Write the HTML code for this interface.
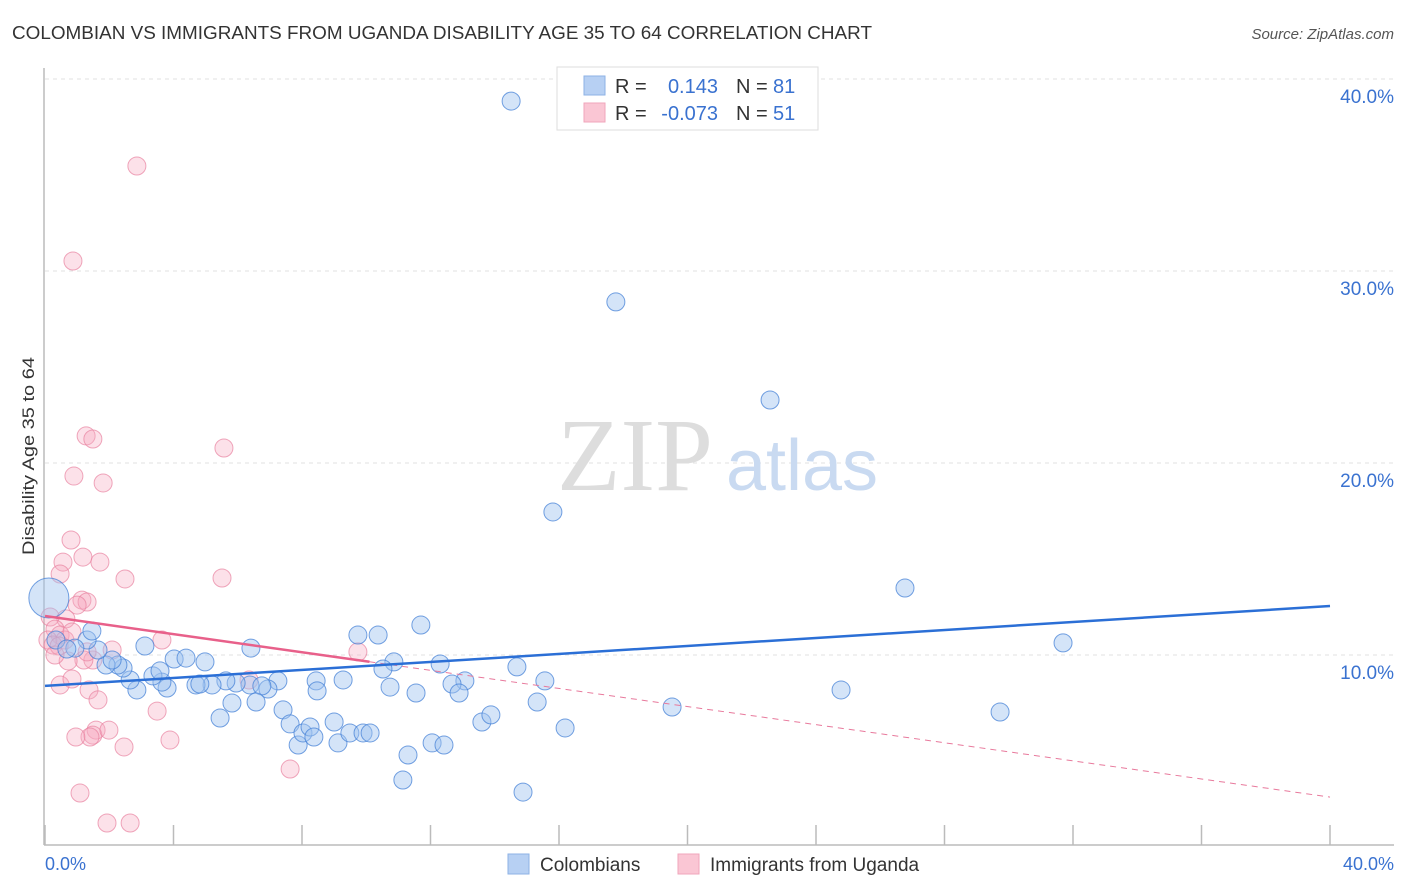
<!DOCTYPE html>
<html><head><meta charset="utf-8"><style>
body{margin:0;background:#fff;font-family:"Liberation Sans",sans-serif;}
svg{display:block}
</style></head><body>
<svg id="chart" width="1406" height="892" xmlns="http://www.w3.org/2000/svg">
<text x="12" y="39" font-size="18" fill="#333" textLength="860" lengthAdjust="spacingAndGlyphs">COLOMBIAN VS IMMIGRANTS FROM UGANDA DISABILITY AGE 35 TO 64 CORRELATION CHART</text>
<text x="1394" y="39" font-size="15" fill="#555" text-anchor="end" font-style="italic">Source: ZipAtlas.com</text>
<text x="34" y="456" font-size="17" fill="#333" text-anchor="middle" textLength="198" lengthAdjust="spacingAndGlyphs" transform="rotate(-90 34 456)">Disability Age 35 to 64</text>
<g id="grid"></g>
<g id="yticks"></g>
<line x1="44" y1="68" x2="44" y2="845" stroke="#bbb" stroke-width="1.5"/>
<line x1="44" y1="845" x2="1394" y2="845" stroke="#bbb" stroke-width="1.5"/>
<g id="xticks"></g>
<text x="45" y="870" font-size="18" fill="#3a72d0">0.0%</text>
<text x="1394" y="870" font-size="18" fill="#3a72d0" text-anchor="end">40.0%</text>
<g><text x="635" y="490" font-size="104" fill="#ddd" font-family="Liberation Serif,serif" text-anchor="middle">ZIP</text><text x="802" y="490" font-size="72" fill="#c9daf1" text-anchor="middle">atlas</text></g>
<g id="pink"></g>
<g id="blue"></g>
<g id="lines"></g>
<g>
<rect x="557" y="67" width="261" height="63" fill="#fff" stroke="#ddd"/>
<rect x="584" y="76" width="21" height="19" fill="#b7d0f3" stroke="#8db2e6"/>
<rect x="584" y="103" width="21" height="19" fill="#fac6d4" stroke="#f0a6bb"/>
<text x="615" y="93" font-size="20" fill="#333">R =</text><text x="718" y="93" font-size="20" fill="#3a72d0" text-anchor="end">0.143</text>
<text x="736" y="93" font-size="20" fill="#333">N =</text><text x="773" y="93" font-size="20" fill="#3a72d0">81</text>
<text x="615" y="120" font-size="20" fill="#333">R =</text><text x="718" y="120" font-size="20" fill="#3a72d0" text-anchor="end">-0.073</text>
<text x="736" y="120" font-size="20" fill="#333">N =</text><text x="773" y="120" font-size="20" fill="#3a72d0">51</text>
</g>
<g>
<rect x="508" y="854" width="21" height="20" fill="#b7d0f3" stroke="#8db2e6"/>
<text x="540" y="871" font-size="19" fill="#333">Colombians</text>
<rect x="678" y="854" width="21" height="20" fill="#fac6d4" stroke="#f0a6bb"/>
<text x="710" y="871" font-size="19" fill="#333">Immigrants from Uganda</text>
</g>
</svg>
<script>
const blueX=[14.51,17.77,22.57,15.81,26.77,31.69,24.78,29.73,19.52,11.70,10.37,9.74,10.86,12.30,14.69,15.56,13.07,12.67,12.89,10.74,11.55,10.52,9.28,8.44,7.25,6.38,5.95,5.63,5.20,4.70,4.82,3.80,3.64,3.36,2.86,2.65,2.43,2.27,1.90,2.09,1.65,1.31,1.46,0.93,0.34,0.12,3.11,4.02,4.39,4.98,6.41,6.94,6.75,5.82,6.57,5.45,7.41,7.63,7.88,8.03,8.25,8.37,9.00,9.12,9.49,9.90,10.12,11.30,12.05,12.42,13.60,13.88,15.32,16.19,11.14,14.88,8.47,0.68,3.58];
const blueY=[38.85,28.39,23.28,17.45,13.49,10.63,8.18,7.03,7.29,11.56,11.04,11.04,9.64,9.53,9.38,8.65,8.65,8.49,8.02,8.33,8.02,9.27,8.70,8.65,8.65,8.44,8.54,8.65,8.44,8.44,8.49,8.28,8.59,8.91,8.18,8.70,9.32,9.48,9.48,9.74,10.26,10.78,11.25,10.36,10.78,12.97,10.47,9.79,9.84,9.64,10.36,8.23,8.39,7.50,7.55,6.72,7.14,6.41,5.31,5.94,6.25,5.73,6.51,5.42,5.94,5.94,5.94,4.79,5.42,5.31,6.51,6.88,7.55,6.20,3.49,2.86,8.13,10.31,9.17];
const pinkX=[2.86,0.87,1.28,1.49,5.57,0.90,1.81,0.81,0.56,1.18,1.71,0.47,2.49,5.51,1.15,1.31,1.00,0.65,0.16,0.31,0.47,0.09,0.62,0.25,0.44,0.84,2.09,3.64,1.49,1.21,0.72,0.31,6.35,9.74,0.47,0.84,1.37,1.65,3.49,1.59,1.49,1.40,0.96,3.89,2.46,7.63,1.09,1.93,2.65,1.99,1.31];
const pinkY=[35.47,30.52,21.41,21.25,20.78,19.32,18.96,15.99,14.84,15.10,14.84,14.22,13.96,14.01,12.86,12.76,12.60,11.88,11.98,11.35,11.04,10.78,10.78,10.52,10.47,11.20,10.26,10.78,9.74,9.74,9.69,10.00,8.70,10.16,8.44,8.75,8.18,7.66,7.08,6.09,5.83,5.73,5.73,5.57,5.21,4.06,2.81,1.25,1.25,6.09,10.16];
const yTicks=[10,20,30,40];
const yTickLabels=["10.0%","20.0%","30.0%","40.0%"];
const xTicks=[0,4,8,12,16,20,24,28,32,36,40];
const blueTrend=[8.39,12.55];
const pinkTrend=[12.03,2.60];
const pinkSolidEnd=10.1;
const NS="http://www.w3.org/2000/svg";
const sx=v=>45+v*32.125, sy=v=>847-v*19.2;
function mk(tag,attrs,parent){const e=document.createElementNS(NS,tag);for(const k in attrs)e.setAttribute(k,attrs[k]);parent.appendChild(e);return e;}
const grid=document.getElementById('grid'),yt=document.getElementById('yticks'),xt=document.getElementById('xticks');
yTicks.forEach((t,i)=>{
 const l=mk('line',{x1:45,x2:1394,y1:sy(t),y2:sy(t),stroke:'#e2e2e2','stroke-dasharray':'4,4'},grid);
 
 
 const tx=mk('text',{x:1394,y:sy(t)+24,'font-size':19,fill:'#3a72d0','text-anchor':'end'},yt);
 tx.textContent=yTickLabels[i];
 
 
});
xTicks.forEach(t=>{
 const l=mk('line',{x1:sx(t),x2:sx(t),y1:825,y2:845,stroke:'#bbb','stroke-width':1.5},xt);
 
 
});
const pg=document.getElementById('pink');
pinkX.forEach((x,i)=>{
 const c=mk('circle',{cx:sx(x),cy:sy(pinkY[i]),r:9,fill:'rgba(246,168,192,0.35)',stroke:'rgba(232,130,160,0.7)','stroke-width':1},pg);
 
 
});
const bg=document.getElementById('blue');
blueX.forEach((x,i)=>{
 const c=mk('circle',{cx:sx(x),cy:sy(blueY[i]),r:(i===45?20:9),fill:'rgba(160,196,240,0.45)',stroke:'rgba(70,130,215,0.75)','stroke-width':1},bg);
 
 
});
const lg=document.getElementById('lines');
const pAt=x=>pinkTrend[0]+(pinkTrend[1]-pinkTrend[0])*x/40;
let l1=mk('line',{x1:sx(pinkSolidEnd),y1:sy(pAt(pinkSolidEnd)),x2:sx(40),y2:sy(pinkTrend[1]),stroke:'#e8799c','stroke-width':1,'stroke-dasharray':'6,5'},lg);


let l2=mk('line',{x1:sx(0),y1:sy(pinkTrend[0]),x2:sx(pinkSolidEnd),y2:sy(pAt(pinkSolidEnd)),stroke:'#e8608a','stroke-width':2.5},lg);


let l3=mk('line',{x1:sx(0),y1:sy(blueTrend[0]),x2:sx(40),y2:sy(blueTrend[1]),stroke:'#2b6fd6','stroke-width':2.5},lg);


</script>
</body></html>
